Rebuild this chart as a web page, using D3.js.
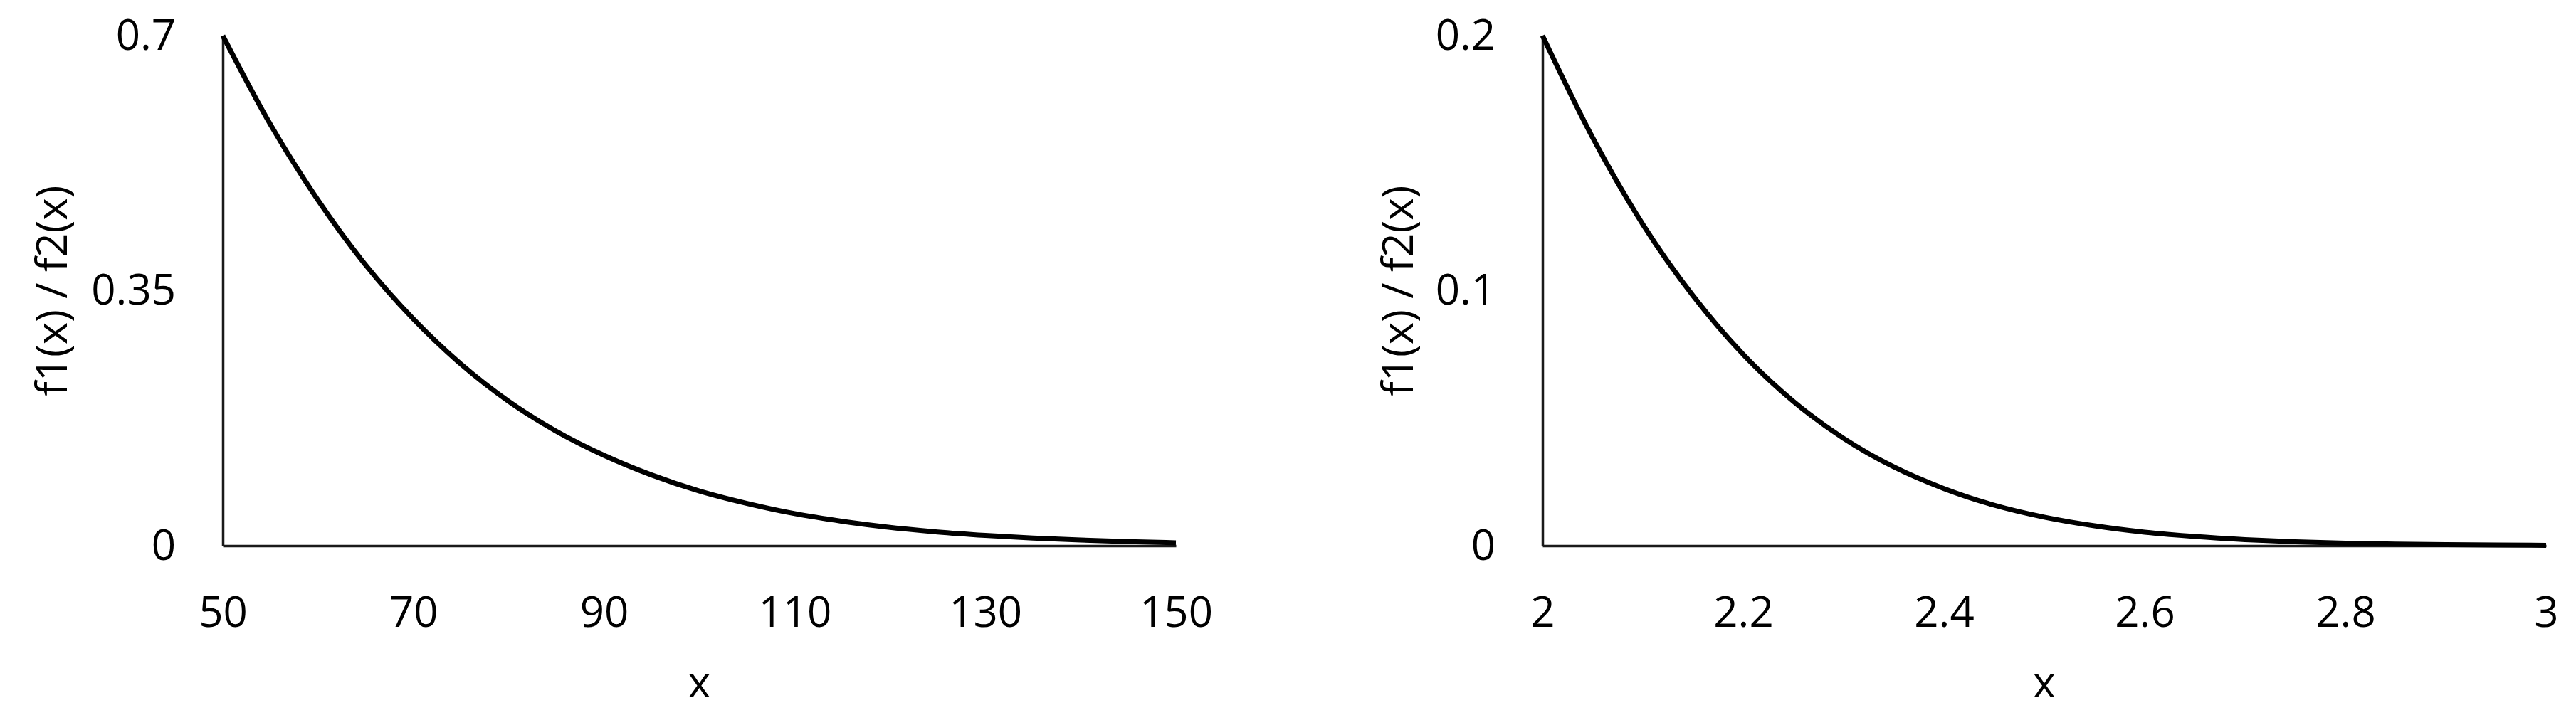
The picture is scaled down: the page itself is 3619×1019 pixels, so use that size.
<!DOCTYPE html>
<html>
<head>
<meta charset="utf-8">
<script src="https://cdn.jsdelivr.net/npm/d3@7/dist/d3.min.js"></script>
<style>
  html, body { margin: 0; padding: 0; background: #fff; }
  svg { display: block; }
  text { font-family: "Open Sans", "Liberation Sans", sans-serif; fill: #000; }
</style>
</head>
<body>
<svg id="chart" width="3619" height="1019"></svg>
<script>
// ---- Data ----
const leftX = [50, 55, 60, 65, 70, 75, 80, 85, 90, 95, 100, 105, 110, 115, 120, 125, 130, 135, 140, 145, 150];
const leftY = [0.700, 0.578, 0.474, 0.385, 0.311, 0.249, 0.198, 0.157, 0.124, 0.097, 0.075, 0.058, 0.044, 0.0335, 0.0252, 0.0188, 0.0141, 0.0104, 0.0077, 0.0056, 0.0040];
const leftXTicks = [50, 70, 90, 110, 130, 150];
const leftYTicks = [0, 0.35, 0.7];

const rightX = [2.00, 2.05, 2.10, 2.15, 2.20, 2.25, 2.30, 2.35, 2.40, 2.45, 2.50, 2.55, 2.60, 2.65, 2.70, 2.75, 2.80, 2.85, 2.90, 2.95, 3.00];
const rightY = [0.200, 0.160, 0.126, 0.098, 0.075, 0.0566, 0.0421, 0.0309, 0.0224, 0.0159, 0.0112, 0.0078, 0.0053, 0.0036, 0.0024, 0.00155, 0.0010, 0.00063, 0.0004, 0.00025, 0.00015];
const rightXTicks = [2, 2.2, 2.4, 2.6, 2.8, 3];
const rightYTicks = [0, 0.1, 0.2];

const xTitle = "x";
const yTitle = "f1(x) / f2(x)";

// ---- Layout ----
const svg = d3.select("#chart");
const FONT = 60;
const plotTop = 50, plotBottom = 767;

const panels = [
  { xs: leftX, ys: leftY, xTicks: leftXTicks, yTicks: leftYTicks, xDom: [50, 150], yDom: [0, 0.7],
    x0: 313, x1: 1652, yTitleX: 71 },
  { xs: rightX, ys: rightY, xTicks: rightXTicks, yTicks: rightYTicks, xDom: [2, 3], yDom: [0, 0.2],
    x0: 2167, x1: 3577, yTitleX: 1962 }
];

panels.forEach(p => {
  const x = d3.scaleLinear().domain(p.xDom).range([p.x0, p.x1]);
  const y = d3.scaleLinear().domain(p.yDom).range([plotBottom, plotTop]);
  const g = svg.append("g");

  // y axis
  const ya = g.append("g")
    .attr("transform", `translate(${p.x0},0)`)
    .call(d3.axisLeft(y).tickValues(p.yTicks).tickFormat(d => String(d)).tickSize(0).tickSizeOuter(0).tickPadding(66));
  // x axis
  const xa = g.append("g")
    .attr("transform", `translate(0,${plotBottom})`)
    .call(d3.axisBottom(x).tickValues(p.xTicks).tickFormat(d => String(d)).tickSize(0).tickSizeOuter(0).tickPadding(71));

  [ya, xa].forEach(a => {
    a.select(".domain").attr("stroke", "#1a1a1a").attr("stroke-width", 3.5);
    a.selectAll("text").attr("font-size", FONT).attr("font-family", '"Open Sans", sans-serif').attr("fill", "#000");
  });

  // curve
  const data = p.xs.map((v, i) => [v, p.ys[i]]);
  g.append("path")
    .datum(data)
    .attr("fill", "none")
    .attr("stroke", "#000")
    .attr("stroke-width", 7)
    .attr("stroke-linejoin", "round")
    .attr("d", d3.line().x(d => x(d[0])).y(d => y(d[1])).curve(d3.curveMonotoneX));

  // x title
  g.append("text")
    .attr("x", (p.x0 + p.x1) / 2)
    .attr("y", 980)
    .attr("text-anchor", "middle")
    .attr("font-size", FONT)
    .text(xTitle);

  // y title
  g.append("text")
    .attr("transform", `translate(${p.yTitleX},${(plotTop + plotBottom) / 2}) rotate(-90)`)
    .attr("text-anchor", "middle")
    .attr("dominant-baseline", "central")
    .attr("font-size", FONT)
    .text(yTitle);
});
</script>
</body>
</html>
